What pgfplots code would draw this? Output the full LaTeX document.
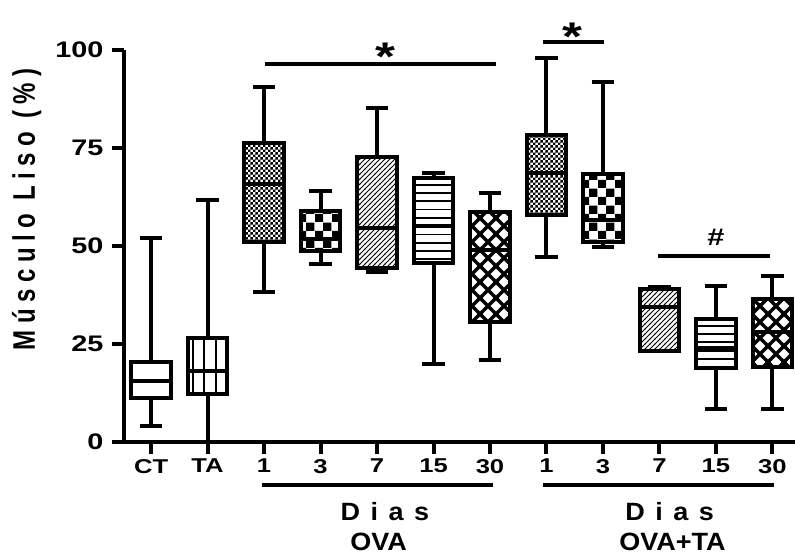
\documentclass[border=0pt]{standalone}
\usepackage{fontspec}
\setmainfont{Liberation Sans}[FakeStretch=1.28]
\newfontfamily\labfont{Liberation Sans}[FakeStretch=1.08]
\newfontfamily\spacedfont{Liberation Sans}[FakeStretch=1.08,LetterSpace=42]
\newfontfamily\ylabfont{Liberation Sans}[LetterSpace=27]
\usepackage{graphicx}
\usepackage{pgfplots}
\pgfplotsset{compat=1.18}
\usepgfplotslibrary{statistics}
\usetikzlibrary{patterns}

% box fills
\pgfdeclarepatternformonly{finecheck}{\pgfpoint{0bp}{0bp}}{\pgfpoint{5.4bp}{5.4bp}}{\pgfpoint{5.4bp}{5.4bp}}{%
  \pgfpathrectangle{\pgfpoint{0bp}{0bp}}{\pgfpoint{2.7bp}{2.7bp}}%
  \pgfpathrectangle{\pgfpoint{2.7bp}{2.7bp}}{\pgfpoint{2.7bp}{2.7bp}}%
  \pgfusepath{fill}}
\pgfdeclarepatternformonly{coarsecheck}{\pgfpoint{0bp}{0bp}}{\pgfpoint{16.6bp}{16.6bp}}{\pgfpoint{16.6bp}{16.6bp}}{%
  \pgfpathrectangle{\pgfpoint{0bp}{0bp}}{\pgfpoint{8.3bp}{8.3bp}}%
  \pgfpathrectangle{\pgfpoint{8.3bp}{8.3bp}}{\pgfpoint{8.3bp}{8.3bp}}%
  \pgfusepath{fill}}
\pgfdeclarepatternformonly{nelines}{\pgfpoint{-1bp}{-1bp}}{\pgfpoint{6bp}{6bp}}{\pgfpoint{5bp}{5bp}}{%
  \pgfsetlinewidth{1bp}%
  \pgfpathmoveto{\pgfpoint{-0.5bp}{-0.5bp}}\pgfpathlineto{\pgfpoint{5.5bp}{5.5bp}}%
  \pgfusepath{stroke}}
\pgfdeclarepatternformonly{hlines}{\pgfpoint{-1bp}{-1bp}}{\pgfpoint{9.3bp}{9.3bp}}{\pgfpoint{8.3bp}{8.3bp}}{%
  \pgfsetlinewidth{1.8bp}%
  \pgfpathmoveto{\pgfpoint{-1bp}{4.15bp}}\pgfpathlineto{\pgfpoint{9.3bp}{4.15bp}}%
  \pgfusepath{stroke}}
\pgfdeclarepatternformonly{vlines}{\pgfpoint{-1bp}{-1bp}}{\pgfpoint{12.6bp}{12.6bp}}{\pgfpoint{11.6bp}{11.6bp}}{%
  \pgfsetlinewidth{2.2bp}%
  \pgfpathmoveto{\pgfpoint{7bp}{-1bp}}\pgfpathlineto{\pgfpoint{7bp}{12.6bp}}%
  \pgfusepath{stroke}}
\pgfdeclarepatternformonly{xhatch}{\pgfpoint{-3bp}{-3bp}}{\pgfpoint{19bp}{19bp}}{\pgfpoint{16bp}{16bp}}{%
  \pgfsetlinewidth{3.4bp}%
  \pgfpathmoveto{\pgfpoint{-2bp}{-2bp}}\pgfpathlineto{\pgfpoint{18bp}{18bp}}%
  \pgfpathmoveto{\pgfpoint{-2bp}{18bp}}\pgfpathlineto{\pgfpoint{18bp}{-2bp}}%
  \pgfusepath{stroke}}

\begin{document}
\begin{tikzpicture}
\path[use as bounding box] (-124bp,-112.3bp) rectangle (671bp,441.7bp);
\begin{axis}[
  scale only axis,
  width=671bp, height=391.7bp,
  xmin=-0.48, xmax=11.4,
  ymin=0, ymax=100,
  clip=false,
  axis x line*=bottom, axis y line*=left,
  axis line style={line width=4bp},
  tick style={line width=4bp, black},
  tick align=outside,
  major tick length=12bp,
  xtick={0,...,11},
  xticklabels={CT,TA,1,3,7,15,30,1,3,7,15,30},
  ytick={0,25,50,75,100},
  yticklabels={0,25,50,75,100},
  xticklabel style={font=\bfseries\fontsize{20bp}{20bp}\selectfont, yshift=-2bp},
  yticklabel style={font=\bfseries\fontsize{22.5bp}{22.5bp}\selectfont, xshift=-5bp},
  boxplot/draw direction=y,
  every axis plot/.append style={draw=black, line width=4bp, solid},
]

% CT
\addplot[boxplot prepared={lower whisker=4.0, lower quartile=11.1, median=15.5,
  upper quartile=20.4, upper whisker=52.1, draw position=0, box extend=0.7, whisker extend=0.4}, fill=white]
  coordinates {};
% TA
\addplot[boxplot prepared={lower whisker=0, lower quartile=12.3, median=18.1,
  upper quartile=26.6, upper whisker=61.7, draw position=1, box extend=0.7, whisker extend=0.4}, pattern=vlines]
  coordinates {};
% OVA 1, 3, 7, 15, 30
\addplot[boxplot prepared={lower whisker=38.3, lower quartile=51.1, median=65.8,
  upper quartile=76.3, upper whisker=90.5, draw position=2, box extend=0.7, whisker extend=0.4}, pattern=finecheck]
  coordinates {};
\addplot[boxplot prepared={lower whisker=45.4, lower quartile=48.7, median=51.7,
  upper quartile=58.9, upper whisker=64.1, draw position=3, box extend=0.7, whisker extend=0.4}, pattern=coarsecheck]
  coordinates {};
\addplot[boxplot prepared={lower whisker=43.4, lower quartile=44.3, median=54.5,
  upper quartile=72.8, upper whisker=85.1, draw position=4, box extend=0.7, whisker extend=0.4}, pattern=nelines]
  coordinates {};
\addplot[boxplot prepared={lower whisker=19.8, lower quartile=45.7, median=55.1,
  upper quartile=67.2, upper whisker=68.7, draw position=5, box extend=0.7, whisker extend=0.4}, pattern=hlines]
  coordinates {};
\addplot[boxplot prepared={lower whisker=20.9, lower quartile=30.6, median=48.9,
  upper quartile=58.7, upper whisker=63.4, draw position=6, box extend=0.7, whisker extend=0.4}, pattern=xhatch]
  coordinates {};
% OVA+TA 1, 3, 7, 15, 30
\addplot[boxplot prepared={lower whisker=47.2, lower quartile=57.9, median=68.5,
  upper quartile=78.3, upper whisker=97.9, draw position=7, box extend=0.7, whisker extend=0.4}, pattern=finecheck]
  coordinates {};
\addplot[boxplot prepared={lower whisker=49.6, lower quartile=51.1, median=56.6,
  upper quartile=68.3, upper whisker=91.9, draw position=8, box extend=0.7, whisker extend=0.4}, pattern=coarsecheck]
  coordinates {};
\addplot[boxplot prepared={lower whisker=23.2, lower quartile=23.2, median=34.5,
  upper quartile=38.9, upper whisker=39.4, draw position=9, box extend=0.7, whisker extend=0.4}, pattern=nelines]
  coordinates {};
\addplot[boxplot prepared={lower whisker=8.3, lower quartile=18.9, median=23.8,
  upper quartile=31.2, upper whisker=39.8, draw position=10, box extend=0.7, whisker extend=0.4}, pattern=hlines]
  coordinates {};
\addplot[boxplot prepared={lower whisker=8.3, lower quartile=19.1, median=27.9,
  upper quartile=36.4, upper whisker=42.3, draw position=11, box extend=0.7, whisker extend=0.4}, pattern=xhatch]
  coordinates {};

% significance marks
\draw[line width=3.5bp] (axis cs:2.02,96.4) -- (axis cs:6.1,96.4);
\node[anchor=base, inner sep=0, font=\bfseries\fontsize{40bp}{40bp}\selectfont] at (axis cs:4.15,94.7) {*};
\draw[line width=3.5bp] (axis cs:6.93,102) -- (axis cs:8.01,102);
\node[anchor=base, inner sep=0, font=\bfseries\fontsize{40bp}{40bp}\selectfont] at (axis cs:7.46,99.8) {*};
\draw[line width=3.5bp] (axis cs:8.97,47.4) -- (axis cs:10.96,47.4);
\node[anchor=base, inner sep=0, font=\bfseries\fontsize{24bp}{24bp}\selectfont] at (axis cs:10.0,50.2) {\#};

% group labels under the axis
\draw[line width=3.5bp] (axis cs:1.96,-11.05) -- (axis cs:6.05,-11.05);
\draw[line width=3.5bp] (axis cs:6.93,-11.05) -- (axis cs:11.03,-11.05);
\node[anchor=base, inner sep=0, font=\spacedfont\bfseries\fontsize{25bp}{25bp}\selectfont] at (axis cs:4.14,-20.2) {Dias};
\node[anchor=base, inner sep=0, font=\labfont\bfseries\fontsize{25bp}{25bp}\selectfont] at (axis cs:4.03,-27.7) {OVA};
\node[anchor=base, inner sep=0, font=\spacedfont\bfseries\fontsize{25bp}{25bp}\selectfont] at (axis cs:9.18,-20.2) {Dias};
\node[anchor=base, inner sep=0, font=\labfont\bfseries\fontsize{25bp}{25bp}\selectfont] at (axis cs:9.23,-27.7) {OVA+TA};

% y label
\node[rotate=90, anchor=base, inner sep=0, font=\ylabfont\bfseries\fontsize{24bp}{24bp}\selectfont]
  at ([xshift=-89bp]axis cs:-0.48,59.3) {\scalebox{1}[1.3]{Músculo Liso (\%)}};
\end{axis}
\end{tikzpicture}
\end{document}
